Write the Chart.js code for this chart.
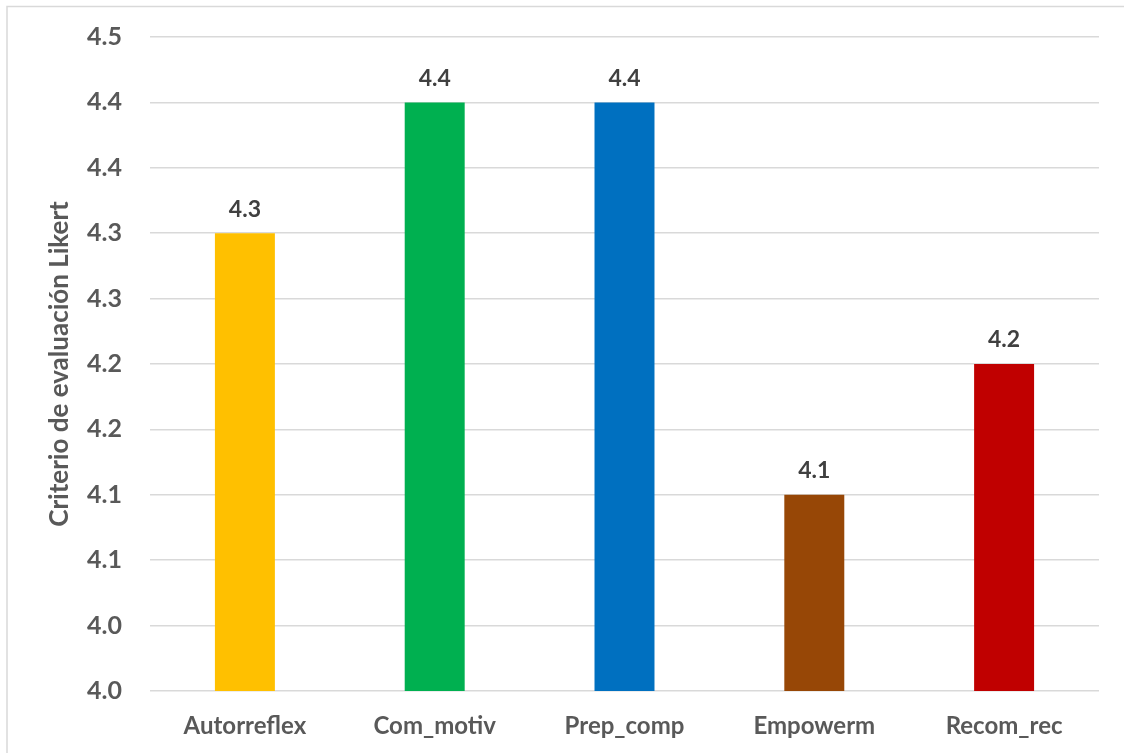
<!DOCTYPE html>
<html>
<head>
<meta charset="utf-8">
<script src="https://cdn.jsdelivr.net/npm/chart.js@4/dist/chart.umd.min.js"></script>
<style>
html,body{margin:0;padding:0;background:#fff;}
#wrap{position:relative;width:1124px;height:753px;}
</style>
</head>
<body>
<div id="wrap"><canvas id="c" width="1124" height="753"></canvas></div>
<script>
const categories = ["Autorreflex", "Com_motiv", "Prep_comp", "Empowerm", "Recom_rec"];
const values = [4.35, 4.45, 4.45, 4.15, 4.25];
const valueLabels = ["4.3", "4.4", "4.4", "4.1", "4.2"];
const barColors = ["#FFC000", "#00B050", "#0070C0", "#974706", "#C00000"];
const tickLabels = ["4.0", "4.0", "4.1", "4.1", "4.2", "4.2", "4.3", "4.3", "4.4", "4.4", "4.5"];
const axisTitle = "Criterio de evaluación Likert";

const FONT = "Lato, 'Open Sans', sans-serif";

const framePlugin = {
  id: 'frame',
  beforeDraw(chart) {
    const ctx = chart.ctx;
    ctx.save();
    ctx.fillStyle = '#ffffff';
    ctx.fillRect(0, 0, chart.width, chart.height);
    ctx.strokeStyle = '#d9d9d9';
    ctx.lineWidth = 1.5;
    ctx.beginPath();
    ctx.moveTo(7, chart.height);
    ctx.lineTo(7, 6.5);
    ctx.lineTo(chart.width, 6.5);
    ctx.stroke();
    ctx.restore();
  }
};

const labelPlugin = {
  id: 'valueLabels',
  afterDatasetsDraw(chart) {
    const ctx = chart.ctx;
    const meta = chart.getDatasetMeta(0);
    ctx.save();
    ctx.font = "bold 23px " + FONT;
    ctx.fillStyle = '#404040';
    ctx.textAlign = 'center';
    ctx.textBaseline = 'middle';
    meta.data.forEach((el, i) => {
      ctx.fillText(valueLabels[i], el.x, el.y - 24);
    });
    ctx.restore();
  }
};

new Chart(document.getElementById('c'), {
  type: 'bar',
  data: {
    labels: categories,
    datasets: [{
      data: values,
      backgroundColor: barColors,
      borderWidth: 0,
      barPercentage: 0.316,
      categoryPercentage: 1.0
    }]
  },
  options: {
    responsive: false,
    animation: false,
    devicePixelRatio: 1,
    layout: { padding: { left: 0, right: 25, top: 37, bottom: 0 } },
    plugins: { legend: { display: false }, tooltip: { enabled: false } },
    scales: {
      x: {
        grid: { display: false, drawTicks: false },
        border: { display: false },
        ticks: {
          color: '#595959',
          font: { family: FONT, size: 24, weight: 'bold' },
          padding: 21,
          maxRotation: 0
        },
        afterFit(scale) { scale.height = 62; }
      },
      y: {
        min: 4.0,
        max: 4.5,
        grid: { color: '#d9d9d9', lineWidth: 1.5, drawTicks: false },
        border: { display: false },
        ticks: {
          stepSize: 0.05,
          color: '#595959',
          font: { family: FONT, size: 25, weight: 'bold' },
          padding: 28,
          callback: (v, i) => tickLabels[i]
        },
        title: {
          display: true,
          text: axisTitle,
          color: '#595959',
          font: { family: FONT, size: 26, weight: 'bold' },
          padding: { top: 44, bottom: 0 }
        },
        afterFit(scale) {
          scale.width = 150;
          scale.paddingTop = 0;
          scale.paddingBottom = 0;
        }
      }
    }
  },
  plugins: [framePlugin, labelPlugin]
});
</script>
</body>
</html>
